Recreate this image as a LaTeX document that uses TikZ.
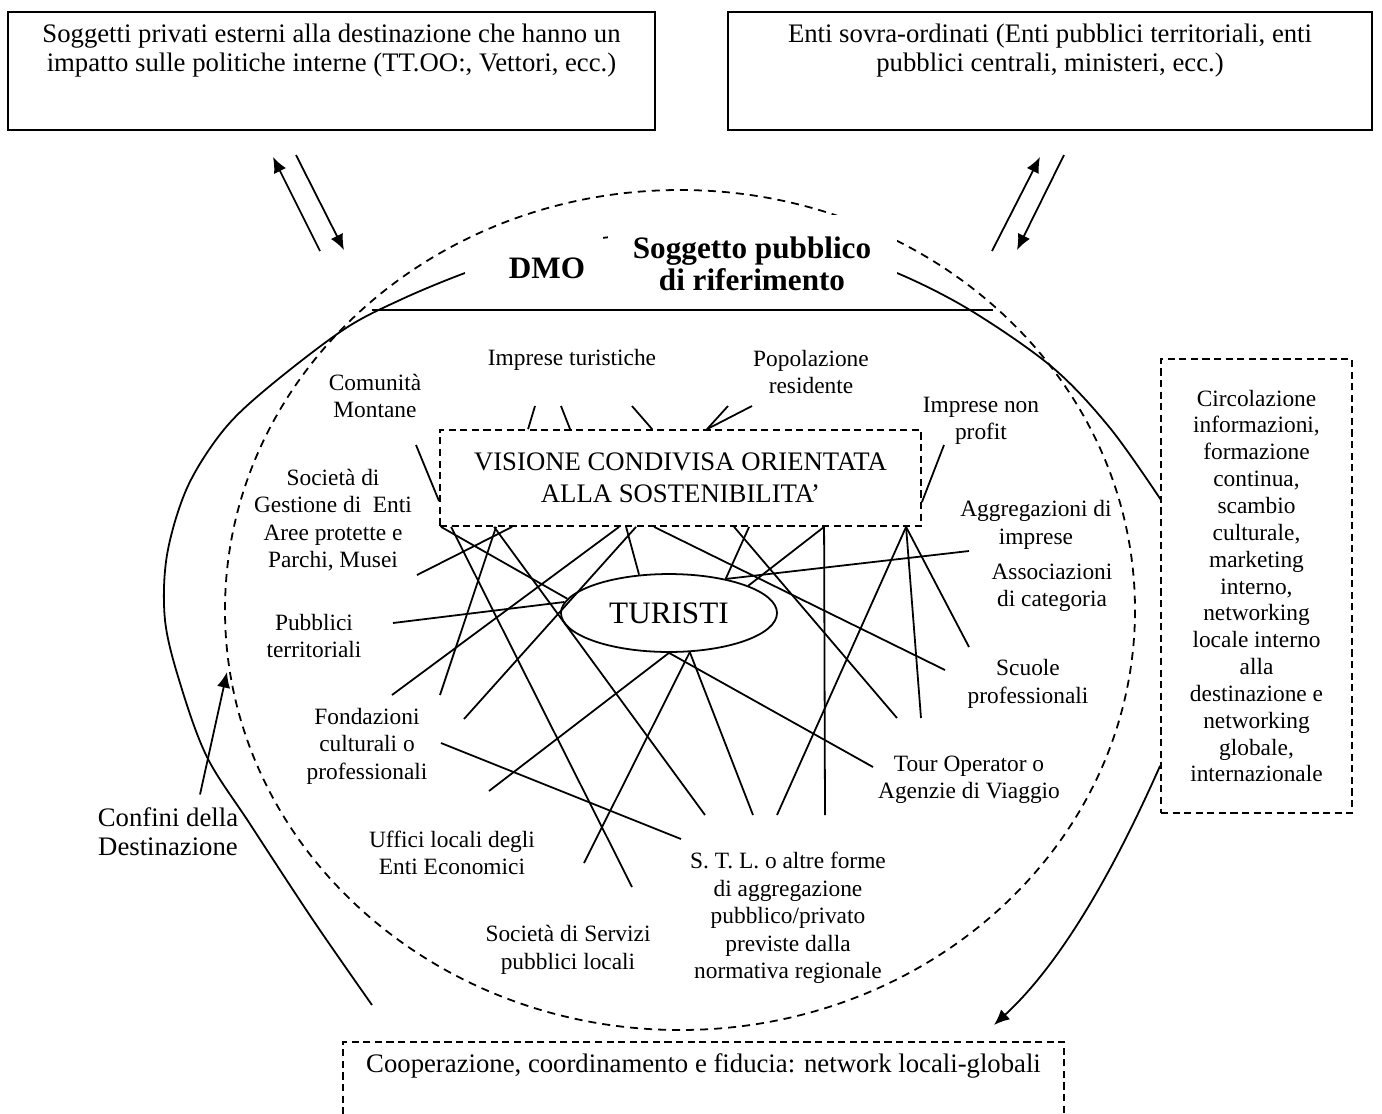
\documentclass[tikz,border=0pt]{standalone}
\usepackage{fontspec}
\setmainfont{Liberation Serif}
\usetikzlibrary{arrows.meta,calc,shapes.geometric}

\tikzset{
  lbl/.style={align=center, inner sep=0pt, font=\fontsize{10.5}{12.35}\selectfont},
  link/.style={line width=0.8pt},
  arr/.style={line width=0.8pt, -{Latex[length=7pt,width=6pt]}},
  topbox/.style={draw, line width=1pt},
  dashbox/.style={draw, line width=0.8pt, dash pattern=on 3.2pt off 2pt},
  toptext/.style={anchor=north, align=center, inner sep=5.5pt, font=\fontsize{12}{13.4}\selectfont},
  bigtitle/.style={inner sep=0pt, align=center, font=\fontsize{14}{14.2}\selectfont\bfseries}
}

\begin{document}
\begin{tikzpicture}[x=0.449pt, y=-0.449pt]
  \useasboundingbox (0,0) rectangle (1382,1113);
  \clip (0,0) rectangle (1382,1113);

  % external actors
  \node[topbox, minimum width=290.5pt, minimum height=53pt,
    label={[toptext]north:{Soggetti privati esterni alla destinazione che hanno un\\impatto sulle politiche interne (TT.OO:, Vettori, ecc.)}}]
    (privati) at (331.5,71) {};
  \node[topbox, minimum width=289.2pt, minimum height=53pt,
    label={[toptext]north:{Enti sovra-ordinati (Enti pubblici territoriali, enti\\pubblici centrali, ministeri, ecc.)}}]
    (enti) at (1050,71) {};

  % outer boundary (solid) and destination border (dashed)
  \draw[link] plot[smooth, tension=0.55] coordinates {
    (372,1005) (313,920) (250,824) (207,757) (180,683) (165,620) (167,555)
    (187,488) (222,432) (265,390) (343,330) (400,300) (465,273) (535,250)
    (602,238) (680,232) (760,240) (840,256) (897,273) (970,310) (1052,367)
    (1110,428) (1161,500)};
  \fill[white] (465,234) rectangle (603,300);
  \draw[line width=0.8pt, dash pattern=on 3.6pt off 2.7pt] (680,610) ellipse [x radius=455, y radius=420];
  \fill[white] (608,215) rectangle (897,300);
  \draw[line width=1pt] (372,310) -- (993,310);

  \node[bigtitle, anchor=base] (dmo) at (547,278) {DMO};
  \node[bigtitle] (sogg) at (752,264) {Soggetto pubblico\\di riferimento};

  % centre
  \node[dashbox, minimum width=216pt, minimum height=43.1pt, align=center, inner sep=0pt,
    font=\fontsize{12}{14.2}\selectfont] (vis) at (680.5,478)
    {VISIONE CONDIVISA ORIENTATA\\ALLA SOSTENIBILITA’};
  \node[ellipse, draw, line width=0.8pt, minimum width=97pt, minimum height=35pt, inner sep=0pt,
    font=\fontsize{14}{16}\selectfont] (tur) at (669,613) {TURISTI};

  % local actors
  \node[lbl] (comun) at (375,396) {Comunità\\Montane};
  \node[lbl] (impr) at (572,360) {Imprese turistiche};
  \node[lbl] (popol) at (811,372) {Popolazione\\residente};
  \node[lbl] (nonprof) at (981,421) {Imprese non\\profit};
  \node[lbl] (socgest) at (333,520) {Società di\\Gestione di~ Enti\\Aree protette e\\Parchi, Musei};
  \node[lbl] (pubbl) at (314,636) {Pubblici\\territoriali};
  \node[lbl] (fond) at (367,746) {Fondazioni\\culturali o\\professionali};
  \node[lbl] (uffici) at (452,853) {Uffici locali degli\\Enti Economici};
  \node[lbl] (servizi) at (568,950) {Società di Servizi\\pubblici locali};
  \node[lbl] (stl) at (788,918) {S. T. L. o altre forme\\di aggregazione\\pubblico/privato\\previste dalla\\normativa regionale};
  \node[lbl] (tour) at (969,780) {Tour Operator o\\Agenzie di Viaggio};
  \node[lbl] (scuole) at (1028,684) {Scuole\\professionali};
  \node[lbl] (assoc) at (1052,588) {Associazioni\\di categoria};
  \node[lbl] (aggr) at (1036,525) {Aggregazioni di\\imprese};
  \node[lbl, font=\fontsize{12}{13}\selectfont] (confini) at (168,832) {Confini della\\Destinazione};

  % free ends of the network lines
  \foreach \n/\x/\y in {pm/417/575, fa/440/695, fb/392/695, fc/464/719, sa/632/887, sb/584/863,
      ta/705/815, tb/753/815, tc/777/815, td/825/815, to/873/767, tp/897/718, tq/921/718,
      sc/945/670, as/969/647, ag/969/551, pu/393/623, uf/489/791, fo/441/743, st/681/839,
      it1/535/406, it2/561/406, it3/632/406, po1/752/406, po2/728/406, sg/416/445, np/944/445}
    {\coordinate (\n) at (\x,\y);}

  % vision box to the actors
  \foreach \dx/\e in {12/sa, 73/pm, 57/fa, 55/ta, 180/fb, 197/fc, 215/sc, 295/tp, 385/td, 467/as, 467/tq, 467/tc}
    \draw[link] ($(vis.south west)+(\dx,0)$) -- (\e);
  % vision box to the tourists
  \foreach \dx/\a in {2/172, 187/128, 310/31, 385/19}
    \draw[link] ($(vis.south west)+(\dx,0)$) -- (tur.\a);
  % tourists to the actors
  \foreach \a/\e in {174/pu, 31/ag, 270/uf, 270/to, -62/sb, -62/tb}
    \draw[link] (tur.\a) -- (\e);
  % actors above the vision box
  \foreach \e/\dx in {it1/89, it2/131, it3/213, po1/268, po2/268}
    \draw[link] (\e) -- ($(vis.north west)+(\dx,0)$);
  \draw[link] (sg) -- ($(vis.north west)+(0,72)$);
  \draw[link] (np) -- ($(vis.north east)+(0,73)$);
  \draw[link] (fo) -- (st);

  % exchanges with the outside
  \coordinate (pl1) at (320,251); \coordinate (pl2) at (273,157);
  \coordinate (pl3) at (296,155); \coordinate (pl4) at (344,250);
  \coordinate (pr1) at (992,251); \coordinate (pr2) at (1040,157);
  \coordinate (pr3) at (1064,155); \coordinate (pr4) at (1017,250);
  \draw[arr] (pl1) -- (pl2);
  \draw[arr] (pl3) -- (pl4);
  \draw[arr] (pr1) -- (pr2);
  \draw[arr] (pr3) -- (pr4);

  % border label
  \coordinate (bord) at (227,672);
  \draw[arr] ($(confini.north)+(32,-13)$) -- (bord);

  % networking box and cooperation
  \node[dashbox, lbl, minimum width=85.8pt, minimum height=203.8pt,
    font=\fontsize{10.5}{12.05}\selectfont] (circ) at (1256.5,586)
    {Circolazione\\informazioni,\\formazione\\continua,\\scambio\\culturale,\\marketing\\interno,\\networking\\locale interno\\alla\\destinazione e\\networking\\globale,\\internazionale};
  \node[dashbox, anchor=base, minimum width=323.7pt, inner sep=3pt, text height=10.5pt, text depth=40pt,
    font=\fontsize{12}{14}\selectfont] (coop) at (703.5,1072)
    {Cooperazione, coordinamento e fiducia: network locali-globali};
  \coordinate (coopin) at (994,1025);
  \draw[arr] ($(circ.south west)+(0,-48)$) .. controls (1125,845) and (1070,955) .. (coopin);
\end{tikzpicture}
\end{document}
